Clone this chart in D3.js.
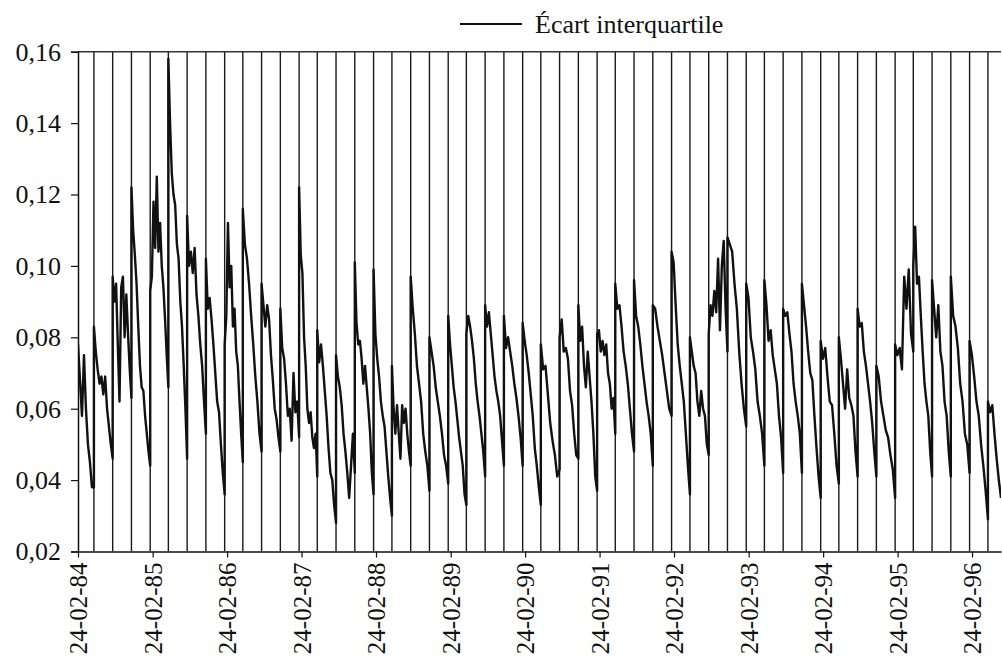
<!DOCTYPE html>
<html><head><meta charset="utf-8">
<script src="https://cdn.jsdelivr.net/npm/d3@7"></script>
<style>
body{margin:0;background:#fff}
svg{display:block}
text{font-family:"Liberation Serif","Times New Roman",serif;fill:#111}
</style>
</head><body>
<svg id="chart" width="1002" height="662"></svg>
<script>
// ---------- data ----------
const seriesName = "Écart interquartile";
const startDate = "1984-02-24";
const endDate = "1996-07-15";
const xTickDates = ["1984-02-24","1985-02-24","1986-02-24","1987-02-24","1988-02-24","1989-02-24","1990-02-24",
  "1991-02-24","1992-02-24","1993-02-24","1994-02-24","1995-02-24","1996-02-24"];
const yTicks = [0.02,0.04,0.06,0.08,0.10,0.12,0.14,0.16];
// contract roll-over dates (vertical jumps of the series)
const rollDates = [
  "1984-05-12","1984-08-12","1984-11-12",
  "1985-02-12","1985-05-12","1985-08-12","1985-11-12",
  "1986-02-12","1986-05-12","1986-08-12","1986-11-12",
  "1987-02-12","1987-05-12","1987-08-12","1987-11-12",
  "1988-02-12","1988-05-12","1988-08-12","1988-11-12",
  "1989-02-12","1989-05-12","1989-08-12","1989-11-12",
  "1990-02-12","1990-05-12","1990-08-12","1990-11-12",
  "1991-02-12","1991-05-12","1991-08-12","1991-11-12",
  "1992-02-12","1992-05-12","1992-08-12","1992-11-12",
  "1993-02-12","1993-05-12","1993-08-12","1993-11-12",
  "1994-02-12","1994-05-12","1994-08-12","1994-11-12",
  "1995-02-12","1995-05-12","1995-08-12","1995-11-12",
  "1996-02-12","1996-05-12"];
// values within each contract period (between consecutive roll-over dates)
const cycleValues = [
  [0.078,0.068,0.058,0.075,0.060,0.050,0.045,0.038,0.038],
  [0.083,0.076,0.071,0.067,0.069,0.064,0.069,0.060,0.055,0.050,0.046],
  [0.097,0.090,0.095,0.078,0.062,0.094,0.097,0.080,0.092,0.081,0.071,0.063],
  [0.122,0.110,0.103,0.095,0.083,0.072,0.066,0.065,0.058,0.053,0.048,0.044],
  [0.093,0.097,0.118,0.105,0.125,0.104,0.112,0.100,0.094,0.085,0.075,0.066],
  [0.158,0.140,0.126,0.120,0.117,0.106,0.102,0.090,0.083,0.072,0.060,0.046],
  [0.114,0.100,0.104,0.098,0.105,0.092,0.086,0.078,0.072,0.062,0.053],
  [0.102,0.088,0.091,0.085,0.078,0.070,0.062,0.059,0.050,0.042,0.036],
  [0.078,0.086,0.112,0.094,0.100,0.083,0.088,0.076,0.072,0.062,0.053,0.045],
  [0.116,0.106,0.102,0.095,0.086,0.078,0.069,0.062,0.053,0.048],
  [0.095,0.089,0.083,0.089,0.085,0.075,0.068,0.060,0.057,0.052,0.048],
  [0.088,0.077,0.074,0.067,0.058,0.060,0.051,0.070,0.059,0.062,0.052],
  [0.122,0.103,0.098,0.080,0.072,0.060,0.056,0.059,0.052,0.049,0.053,0.041],
  [0.082,0.073,0.078,0.072,0.065,0.058,0.049,0.042,0.040,0.033,0.028],
  [0.075,0.069,0.066,0.061,0.053,0.048,0.042,0.035,0.044,0.053,0.042],
  [0.101,0.084,0.078,0.079,0.074,0.067,0.072,0.066,0.060,0.053,0.042,0.036],
  [0.099,0.081,0.074,0.069,0.062,0.058,0.055,0.048,0.041,0.035,0.030],
  [0.072,0.060,0.053,0.061,0.053,0.046,0.061,0.056,0.060,0.053,0.048,0.044],
  [0.097,0.088,0.081,0.072,0.067,0.062,0.053,0.048,0.044,0.037],
  [0.080,0.076,0.072,0.066,0.062,0.058,0.053,0.047,0.044,0.039],
  [0.086,0.078,0.072,0.066,0.062,0.057,0.052,0.048,0.044,0.036,0.033],
  [0.081,0.086,0.083,0.079,0.074,0.067,0.062,0.058,0.053,0.048,0.041],
  [0.089,0.083,0.087,0.081,0.075,0.069,0.065,0.062,0.058,0.051,0.044],
  [0.086,0.077,0.080,0.076,0.072,0.067,0.063,0.058,0.052,0.044],
  [0.084,0.079,0.075,0.070,0.064,0.058,0.049,0.044,0.038,0.033],
  [0.078,0.071,0.072,0.064,0.056,0.051,0.047,0.041,0.043],
  [0.080,0.085,0.076,0.077,0.074,0.065,0.061,0.053,0.047,0.046],
  [0.089,0.079,0.083,0.072,0.066,0.076,0.069,0.062,0.053,0.041,0.037],
  [0.081,0.082,0.076,0.079,0.075,0.078,0.070,0.067,0.060,0.063,0.053],
  [0.095,0.088,0.089,0.083,0.076,0.072,0.067,0.060,0.053,0.048],
  [0.096,0.086,0.083,0.078,0.072,0.067,0.062,0.058,0.053,0.044],
  [0.089,0.088,0.083,0.079,0.075,0.070,0.065,0.060,0.058],
  [0.104,0.101,0.089,0.078,0.072,0.067,0.062,0.053,0.044,0.036],
  [0.080,0.076,0.072,0.070,0.062,0.058,0.065,0.060,0.058,0.050,0.047],
  [0.081,0.089,0.086,0.093,0.087,0.102,0.082,0.100,0.107,0.088,0.076],
  [0.108,0.106,0.104,0.095,0.088,0.076,0.067,0.060,0.055],
  [0.095,0.091,0.080,0.076,0.071,0.062,0.058,0.053,0.044],
  [0.096,0.089,0.079,0.082,0.075,0.071,0.067,0.058,0.052,0.042],
  [0.088,0.086,0.087,0.081,0.076,0.067,0.062,0.058,0.053,0.042],
  [0.095,0.089,0.083,0.076,0.070,0.068,0.058,0.049,0.041,0.035],
  [0.079,0.074,0.077,0.069,0.062,0.061,0.053,0.044,0.039],
  [0.080,0.074,0.067,0.060,0.071,0.063,0.061,0.058,0.048,0.041],
  [0.088,0.083,0.084,0.076,0.072,0.067,0.062,0.056,0.048,0.041],
  [0.072,0.069,0.062,0.058,0.054,0.052,0.047,0.043,0.035],
  [0.078,0.075,0.077,0.071,0.097,0.088,0.099,0.081,0.076],
  [0.100,0.111,0.095,0.097,0.086,0.076,0.067,0.062,0.058,0.048,0.041],
  [0.096,0.088,0.080,0.089,0.076,0.072,0.062,0.058,0.048,0.041],
  [0.097,0.086,0.083,0.077,0.067,0.062,0.053,0.050,0.042],
  [0.079,0.075,0.069,0.062,0.058,0.050,0.044,0.037,0.029],
  [0.062,0.059,0.061,0.053,0.046,0.040,0.035]
];

// ---------- drawing ----------
(function () {
const parse = d3.utcParse("%Y-%m-%d");
const svg = d3.select("#chart");
const pLeft = 78, pRight = 1001, pTop = 51.7, pBottom = 551.5;

const x = d3.scaleUtc().domain([parse(startDate), parse(endDate)]).range([pLeft, pRight]);
const y = d3.scaleLinear().domain([0.02, 0.16]).range([pBottom, pTop]);

const bounds = [parse(startDate), ...rollDates.map(parse), parse(endDate)];
const points = [];
cycleValues.forEach((vals, k) => {
  const t0 = +bounds[k], t1 = +bounds[k + 1];
  const n = vals.length;
  vals.forEach((v, i) => {
    points.push({ date: new Date(t0 + (t1 - t0) * i / (n - 1)), value: v });
  });
});

svg.append("defs").append("clipPath").attr("id", "plot")
  .append("rect").attr("x", pLeft).attr("y", pTop).attr("width", pRight - pLeft).attr("height", pBottom - pTop);

// roll-over jumps
svg.append("g").attr("clip-path", "url(#plot)")
  .selectAll("line").data(rollDates.map(parse)).join("line")
  .attr("x1", d => x(d)).attr("x2", d => x(d))
  .attr("y1", y(0.02)).attr("y2", y(0.16))
  .attr("stroke", "#1a1a1a").attr("stroke-width", 1.4);

// series
svg.append("path").datum(points)
  .attr("clip-path", "url(#plot)")
  .attr("fill", "none").attr("stroke", "#111").attr("stroke-width", 2.4)
  .attr("stroke-linejoin", "round")
  .attr("d", d3.line().x(d => x(d.date)).y(d => y(d.value)));

// top frame line
svg.append("line").attr("x1", pLeft).attr("x2", pRight).attr("y1", pTop).attr("y2", pTop)
  .attr("stroke", "#333").attr("stroke-width", 1.5);

// y axis
const fmt = v => d3.format(".2f")(v).replace(".", ",");
const yAxis = svg.append("g").attr("transform", `translate(${pLeft},0)`)
  .call(d3.axisLeft(y).tickValues(yTicks).tickFormat(fmt).tickSize(7).tickPadding(10));
yAxis.select(".domain").attr("stroke", "#111").attr("stroke-width", 1.5);
yAxis.selectAll(".tick line").attr("stroke", "#111").attr("stroke-width", 1.2);
yAxis.selectAll("text").attr("font-size", 26).attr("font-family", "Liberation Serif").attr("fill", "#111");

// x axis
const xAxis = svg.append("g").attr("transform", `translate(0,${pBottom})`)
  .call(d3.axisBottom(x).tickValues(xTickDates.map(parse)).tickFormat(d3.utcFormat("%d-%m-%y")).tickSize(6).tickSizeOuter(0));
xAxis.select(".domain").attr("stroke", "#111").attr("stroke-width", 1.5);
xAxis.selectAll(".tick line").attr("stroke", "#111").attr("stroke-width", 1.2);
xAxis.selectAll("text")
  .attr("font-size", 25).attr("font-family", "Liberation Serif").attr("fill", "#111")
  .attr("text-anchor", "end")
  .attr("transform", "rotate(-90)")
  .attr("x", -11).attr("y", 0).attr("dy", "0.35em");

// legend
const lg = svg.append("g");
lg.append("line").attr("x1", 460).attr("x2", 522).attr("y1", 24).attr("y2", 24)
  .attr("stroke", "#111").attr("stroke-width", 2.2);
lg.append("text").attr("x", 535).attr("y", 33).attr("font-size", 26).text(seriesName);
})();
</script>
</body></html>
